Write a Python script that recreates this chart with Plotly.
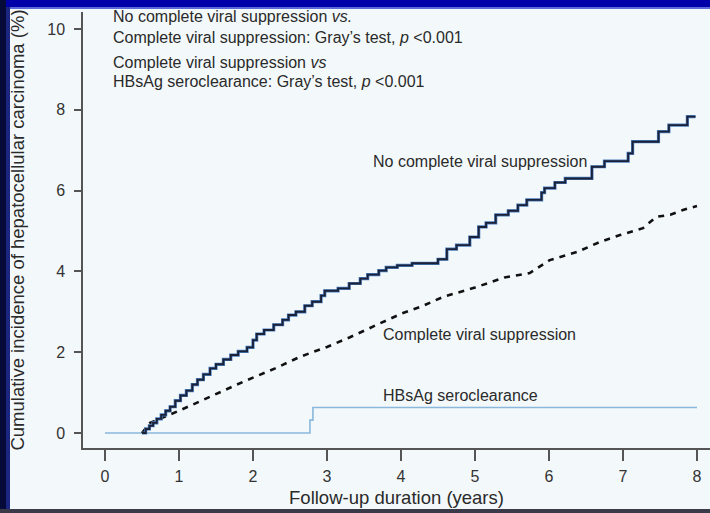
import plotly.graph_objects as go

# ---- data ----
no_cvs_x = [0.50, 0.55, 0.60, 0.65, 0.70, 0.76, 0.82, 0.88, 0.95, 1.02, 1.10, 1.18, 1.25, 1.33,
            1.42, 1.50, 1.60, 1.70, 1.80, 1.92, 2.00, 2.05, 2.15, 2.28, 2.40, 2.48, 2.58, 2.70,
            2.80, 2.92, 2.97, 3.15, 3.30, 3.45, 3.55, 3.70, 3.80, 3.95, 4.15, 4.50, 4.62, 4.75,
            4.93, 5.05, 5.15, 5.28, 5.45, 5.58, 5.70, 5.90, 5.94, 6.08, 6.22, 6.58, 6.75, 7.07,
            7.13, 7.48, 7.62, 7.87, 7.98]
no_cvs_y = [0.00, 0.10, 0.18, 0.25, 0.35, 0.45, 0.55, 0.65, 0.80, 0.93, 1.05, 1.20, 1.32, 1.45,
            1.60, 1.70, 1.82, 1.93, 2.02, 2.12, 2.30, 2.45, 2.55, 2.68, 2.80, 2.92, 3.00, 3.15,
            3.25, 3.40, 3.52, 3.58, 3.70, 3.82, 3.92, 4.02, 4.10, 4.15, 4.20, 4.30, 4.55, 4.65,
            4.85, 5.10, 5.20, 5.40, 5.50, 5.64, 5.77, 5.95, 6.06, 6.20, 6.30, 6.59, 6.73, 6.92,
            7.21, 7.46, 7.62, 7.83, 7.83]

cvs_x = [0.50, 0.61, 1.00, 1.50, 1.87, 2.30, 2.64, 3.00, 3.31, 3.70, 4.00, 4.30, 4.57, 5.00,
         5.40, 5.74, 6.01, 6.38, 6.69, 6.96, 7.27, 7.45, 7.64, 7.81, 8.00]
cvs_y = [0.00, 0.25, 0.55, 0.97, 1.27, 1.60, 1.89, 2.13, 2.37, 2.70, 2.95, 3.15, 3.37, 3.60,
         3.85, 3.96, 4.28, 4.48, 4.73, 4.90, 5.07, 5.35, 5.40, 5.52, 5.62]

hbs_x = [0.0, 2.77, 2.81, 8.0]
hbs_y = [0.0, 0.32, 0.63, 0.63]

x_ticks = [0, 1, 2, 3, 4, 5, 6, 7, 8]
y_ticks = [0, 2, 4, 6, 8, 10]

FONT = "Liberation Sans, Arial, sans-serif"
TXT = "#2a2a2a"

fig = go.Figure()
fig.add_trace(go.Scatter(x=hbs_x, y=hbs_y, mode="lines", line=dict(color="#8ab8dc", width=1.6, shape="hv"),
                         showlegend=False, hoverinfo="skip"))
fig.add_trace(go.Scatter(x=cvs_x, y=cvs_y, mode="lines", line=dict(color="#111111", width=2.6, dash="6px,6px"),
                         showlegend=False, hoverinfo="skip"))
fig.add_trace(go.Scatter(x=no_cvs_x, y=no_cvs_y, mode="lines", line=dict(color="#4a7cc0", width=3.2, shape="hv"),
                         showlegend=False, hoverinfo="skip"))
fig.add_trace(go.Scatter(x=no_cvs_x, y=no_cvs_y, mode="lines", line=dict(color="#1b2238", width=1.9, shape="hv"),
                         showlegend=False, hoverinfo="skip"))

# annotations
def ann(x, y, text, size):
    fig.add_annotation(x=x, y=y, xref="x", yref="y", text=text, showarrow=False, xanchor="left",
                       yanchor="middle", xshift=-2, font=dict(family=FONT, size=size, color=TXT))

ann(0.108, 10.30, "No complete viral suppression <i>vs.</i>", 16)
ann(0.108, 9.78, "Complete viral suppression: Gray’s test, <i>p</i> &lt;0.001", 16)
ann(0.108, 9.18, "Complete viral suppression <i>vs</i>", 16)
ann(0.108, 8.69, "HBsAg seroclearance: Gray’s test, <i>p</i> &lt;0.001", 16)
ann(3.62, 6.73, "No complete viral suppression", 16)
ann(3.76, 2.43, "Complete viral suppression", 16)
ann(3.76, 0.94, "HBsAg seroclearance", 16)

# frame bands
def band(x0, y0, x1, y1, color):
    fig.add_shape(type="rect", xref="paper", yref="paper", x0=x0, y0=y0, x1=x1, y1=y1,
                  fillcolor=color, line=dict(width=0), layer="below")

W, H = 627.0, 436.0
def px(p):
    return (p - 83) / W
def py(p):
    return (448 - p) / H

band(px(0), py(0), px(710), py(7), "#0000a8")
band(px(0), py(7), px(710), py(9), "#5a6ad8")
band(px(0), py(0), px(6), py(513), "#060a38")
band(px(6), py(7), px(10), py(513), "#1a2680")
band(px(0), py(509), px(710), py(513), "#3a3a48")

fig.update_layout(
    width=710, height=513,
    margin=dict(l=83, r=0, t=12, b=65),
    paper_bgcolor="#f3f9fa", plot_bgcolor="#f3f9fa",
    font=dict(family=FONT, color=TXT),
    xaxis=dict(range=[-0.297, 8.176], tickvals=x_ticks, ticktext=[str(v) for v in x_ticks],
               showgrid=False, zeroline=False, showline=True, linecolor="#555555", linewidth=1.5,
               ticks="outside", ticklen=11, tickwidth=1.5, tickcolor="#555555",
               tickfont=dict(size=16, color="#333333"), ticklabelstandoff=2,
               title=dict(text="Follow-up duration (years)", font=dict(size=18.5, color=TXT), standoff=7)),
    yaxis=dict(range=[-0.371, 10.42], tickvals=y_ticks, ticktext=[str(v) for v in y_ticks],
               showgrid=False, zeroline=False, showline=True, linecolor="#555555", linewidth=1.5,
               ticks="outside", ticklen=7, tickwidth=1.5, tickcolor="#555555",
               tickfont=dict(size=16, color="#333333"), ticklabelstandoff=6,
               title=dict(text="Cumulative incidence of hepatocellular carcinoma (%)",
                          font=dict(size=18.5, color=TXT), standoff=18)),
)

fig.write_html("out.html")
